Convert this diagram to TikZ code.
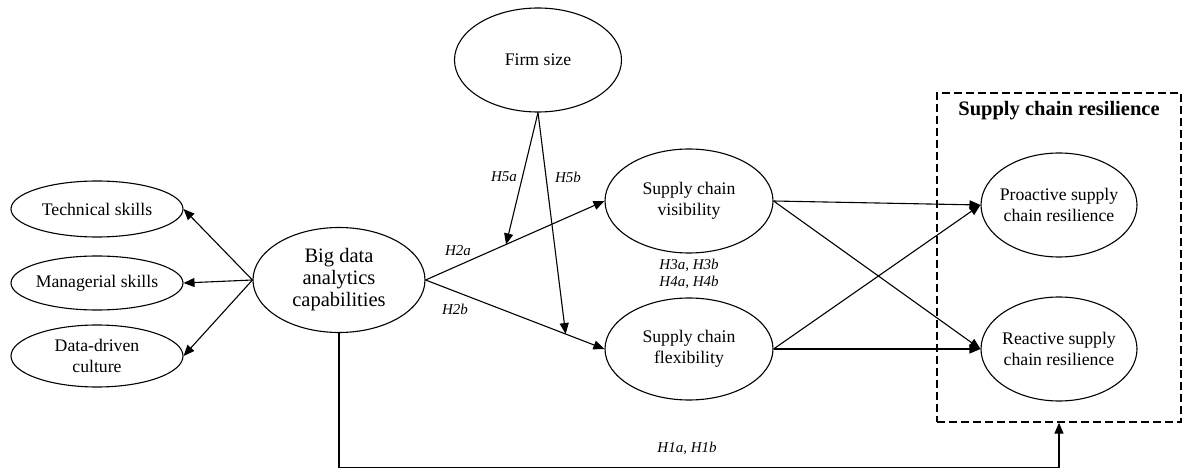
\documentclass[tikz,border=0pt]{standalone}
\usepackage{fontspec}
\setmainfont{Liberation Serif}
\usetikzlibrary{shapes.geometric,arrows.meta,calc}
\begin{document}
\begin{tikzpicture}[x=1pt,y=-1pt,
  el/.style={draw,ellipse,line width=1.1pt,inner sep=0pt},
  txt/.style={align=center,font=\fontsize{17.7}{20.5}\selectfont},
  bigtxt/.style={align=center,font=\fontsize{20.5}{22}\selectfont},
  hyp/.style={font=\fontsize{15}{17}\selectfont\itshape,align=center},
  arr/.style={line width=1.1pt,-{Triangle[length=11pt,width=9pt]}},
  ln/.style={line width=1.1pt}]
\useasboundingbox (0,0) rectangle (1184,473);
% dashed box
\node[draw,dashed,dash pattern=on 8pt off 4pt,line width=1.3pt,minimum width=244pt,minimum height=329pt,inner sep=0pt] (scr) at (1059,257.5) {};
\node[font=\fontsize{20.5}{22}\selectfont\bfseries] (title) at (1059,111) {Supply chain resilience};
% ellipses
\node[el,minimum width=172pt,minimum height=56pt,label={[txt]center:Technical skills}] (tech) at (97,209) {};
\node[el,minimum width=172pt,minimum height=54pt,label={[txt]center:Managerial skills}] (man) at (97,283) {};
\node[el,minimum width=172pt,minimum height=62pt,label={[txt]center:{Data-driven\\culture}}] (dd) at (97,356) {};
\node[el,minimum width=172pt,minimum height=105pt,label={[bigtxt]center:{Big data\\analytics\\capabilities}}] (big) at (339,280) {};
\node[el,minimum width=167pt,minimum height=104pt,label={[txt]center:Firm size}] (firm) at (538,60) {};
\node[el,minimum width=168pt,minimum height=104pt,label={[txt]center:{Supply chain\\visibility}}] (vis) at (689,201) {};
\node[el,minimum width=168pt,minimum height=102pt,label={[txt]center:{Supply chain\\flexibility}}] (flex) at (689,349) {};
\node[el,minimum width=156pt,minimum height=104pt,label={[txt]center:{Proactive supply\\chain resilience}}] (pro) at (1059,205) {};
\node[el,minimum width=156pt,minimum height=104pt,label={[txt]center:{Reactive supply\\chain resilience}}] (rea) at (1059,349) {};
% arrows to skills
\draw[arr] (big.west) -- (tech.east);
\draw[arr] (big.west) -- (man.east);
\draw[arr] (big.west) -- (dd.east);
% H2
\draw[arr] (big.east) -- (vis.west);
\draw[arr] (big.east) -- (flex.west);
\coordinate (m5a) at ($(big.east)!0.45!(vis.west)$);
\coordinate (m5b) at ($(big.east)!0.783!(flex.west)$);
\draw[arr] (firm.south) -- (m5a);
\draw[arr] (firm.south) -- (m5b);
% H3/H4
\draw[arr] (vis.east) -- (pro.west);
\draw[arr] (vis.east) -- (rea.west);
\draw[arr] (flex.east) -- (pro.west);
\draw[arr] (flex.east) -- (rea.west);
% H1
\coordinate (h1) at ($(scr.south)+(0,45)$);
\draw[arr] (big.south) |- (h1) -- (scr.south);
% labels
\node[hyp] (l5a) at (504,177) {H5a};
\node[hyp] (l5b) at (568,177) {H5b};
\node[hyp] (l2a) at (458,251) {H2a};
\node[hyp] (l2b) at (455,309) {H2b};
\node[hyp] (l34) at (689,274) {H3a, H3b\\H4a, H4b};
\node[hyp] (l1) at (687,448) {H1a, H1b};
\end{tikzpicture}
\end{document}
